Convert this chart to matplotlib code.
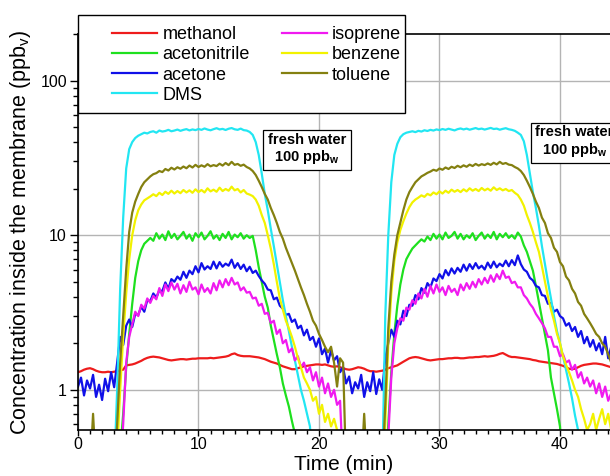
import numpy as np
import matplotlib
matplotlib.use("Agg")
import matplotlib.pyplot as plt
from matplotlib.ticker import MultipleLocator, LogLocator, FuncFormatter, NullFormatter
from matplotlib.patches import Rectangle

plt.rcParams['font.family'] = 'Liberation Sans'
plt.rcParams['mathtext.fontset'] = 'custom'
plt.rcParams['mathtext.rm'] = 'Liberation Sans'
plt.rcParams['mathtext.bf'] = 'Liberation Sans:bold'
plt.rcParams['mathtext.default'] = 'regular'

# sampling times (min), one reading every 15 s
time = np.arange(179) * 0.25

# values below the plotted range are stored as 0.3
methanol = [
    1.30, 1.32, 1.35, 1.37, 1.38, 1.36, 1.33, 1.31,
    1.30, 1.30, 1.31, 1.30, 1.31, 1.32, 1.34, 1.35,
    1.44, 1.45, 1.46, 1.48, 1.51, 1.54, 1.58, 1.61,
    1.63, 1.64, 1.63, 1.62, 1.60, 1.58, 1.56, 1.55,
    1.56, 1.57, 1.58, 1.58, 1.57, 1.58, 1.59, 1.59,
    1.60, 1.60, 1.60, 1.60, 1.61, 1.60, 1.61, 1.62,
    1.63, 1.64, 1.66, 1.70, 1.72, 1.68, 1.66, 1.65,
    1.65, 1.65, 1.64, 1.63, 1.62, 1.60, 1.58, 1.55,
    1.52, 1.50, 1.48, 1.45, 1.42, 1.40, 1.38, 1.36,
    1.36, 1.38, 1.40, 1.42, 1.43, 1.44, 1.45, 1.46,
    1.46, 1.45, 1.46, 1.44, 1.42, 1.41, 1.42, 1.40,
    1.38, 1.36, 1.35, 1.36, 1.38, 1.40, 1.39, 1.37,
    1.34, 1.32, 1.32, 1.31, 1.32, 1.33, 1.35, 1.38,
    1.40, 1.42, 1.44, 1.48, 1.52, 1.56, 1.60, 1.62,
    1.63, 1.62, 1.60, 1.58, 1.56, 1.55, 1.56, 1.57,
    1.58, 1.58, 1.59, 1.60, 1.60, 1.61, 1.61, 1.60,
    1.60, 1.61, 1.62, 1.62, 1.63, 1.63, 1.64, 1.65,
    1.64, 1.65, 1.66, 1.68, 1.71, 1.73, 1.69, 1.65,
    1.63, 1.63, 1.62, 1.61, 1.60, 1.59, 1.58, 1.56,
    1.55, 1.53, 1.52, 1.51, 1.50, 1.49, 1.48, 1.47,
    1.45, 1.43, 1.40, 1.37, 1.36, 1.37, 1.40, 1.43,
    1.45, 1.46, 1.47, 1.48, 1.48, 1.47, 1.46, 1.44,
    1.42, 1.40, 1.39,
]

acetonitrile = [
    0.3, 0.3, 0.3, 0.3, 0.3, 0.3, 0.3, 0.3,
    0.3, 0.3, 0.3, 0.3, 0.3, 0.3, 0.4, 0.7,
    1.4, 2.3, 3.6, 5.3, 6.8, 8.0, 8.8, 9.2,
    9.6, 9.2, 10.3, 9.5, 10.1, 9.3, 10.6, 9.6,
    10.2, 9.4, 9.9, 10.5, 9.5, 10.1, 9.2, 10.3,
    9.7, 10.4, 9.4, 9.9, 10.6, 9.5, 10.0, 9.3,
    10.2, 9.6, 10.5, 9.4, 10.1, 9.7, 10.3, 9.5,
    10.0, 9.6, 9.9, 8.0, 6.2, 5.0, 4.0, 3.4,
    2.6, 2.1, 1.7, 1.4, 1.1, 0.92, 0.78, 0.63,
    0.52, 0.3, 0.3, 0.3, 0.3, 0.3, 0.3, 0.3,
    0.3, 0.3, 0.3, 0.3, 0.3, 0.3, 0.3, 0.3,
    0.3, 0.3, 0.3, 0.3, 0.3, 0.3, 0.3, 0.3,
    0.3, 0.3, 0.3, 0.3, 0.3, 0.3, 0.3, 0.6,
    1.3, 2.3, 3.5, 4.8, 6.0, 7.0, 7.6, 8.2,
    8.6, 9.0, 9.4, 9.1, 9.8, 9.3, 10.2, 9.5,
    10.1, 9.4, 10.4, 9.6, 9.9, 10.5, 9.5, 10.2,
    9.4, 10.0, 9.6, 10.3, 9.3, 9.9, 10.4, 9.5,
    10.1, 9.6, 10.5, 9.4, 10.2, 9.7, 10.3, 9.6,
    10.0, 9.5, 10.4, 9.8, 8.6, 7.8, 6.8, 5.9,
    4.7, 3.7, 2.9, 2.3, 1.8, 1.2, 0.95, 0.75,
    0.58, 0.3, 0.3, 0.3, 0.3, 0.3, 0.3, 0.3,
    0.3, 0.3, 0.3, 0.3, 0.3, 0.3, 0.3, 0.3,
    0.3, 0.3, 0.3,
]

acetone = [
    1.05, 1.2, 0.92, 1.15, 1.02, 1.25, 0.9, 1.08,
    0.86, 1.18, 0.98, 1.3, 1.04, 1.5, 2.2, 1.95,
    2.6, 2.85, 2.55, 3.1, 3.05, 3.45, 3.2, 3.8,
    3.75, 4.2, 3.95, 4.4, 4.35, 4.95, 4.5, 5.2,
    5.0, 5.4, 5.15, 5.8, 5.3, 5.9, 5.6, 6.3,
    5.75, 6.6, 6.0, 6.3, 6.05, 6.75, 6.1, 6.7,
    6.25, 6.55, 6.35, 6.95, 6.15, 6.6, 6.05, 6.45,
    5.85, 6.25, 5.7, 5.9, 5.45, 5.1, 4.85, 4.45,
    4.4, 3.85, 3.95, 3.5, 3.35, 3.05, 3.1, 2.75,
    2.85, 2.5, 2.6, 2.25, 2.45, 2.1, 2.2, 1.9,
    2.15, 1.7, 1.85, 1.5, 1.8, 1.55, 1.65, 1.3,
    1.4, 1.1, 1.22, 0.95, 1.12, 1.02, 1.25, 0.9,
    1.12, 0.98, 1.3, 0.94, 1.17, 1.0, 1.6, 2.0,
    2.45, 2.2, 2.8, 2.65, 3.25, 3.0, 3.55, 3.5,
    4.1, 3.85, 4.55, 4.25, 4.9, 4.6, 5.25, 5.05,
    5.6, 5.25, 5.95, 5.5, 6.1, 5.65, 6.15, 5.8,
    6.45, 5.9, 6.5, 6.05, 6.6, 6.1, 6.35, 6.0,
    6.65, 6.15, 6.75, 6.2, 6.55, 6.3, 6.85, 6.3,
    6.9, 6.4, 7.4, 6.5, 6.0, 5.8, 5.3, 5.1,
    4.7, 4.6, 4.1, 4.05, 3.6, 3.65, 3.2, 3.3,
    3.0, 2.9, 2.6, 2.7, 2.4, 2.55, 2.2, 2.4,
    2.0, 2.2, 1.9, 2.1, 1.8, 2.0, 1.7, 2.2,
    1.6, 1.9, 1.7,
]

dms = [
    0.3, 0.3, 0.3, 0.3, 0.3, 0.3, 0.3, 0.3,
    0.3, 0.3, 0.3, 0.3, 0.3, 1.0, 4.5, 13,
    27, 36, 40, 42.5, 44, 45, 46, 45.5,
    46.5, 47, 46, 47.5, 46.8, 47.2, 48, 47,
    47.5, 48.2, 47.3, 48, 48.5, 47.6, 48.3, 47.8,
    48.6, 48, 49, 48.2, 47.7, 48.5, 49.2, 48.3,
    48.7, 47.9, 48.8, 49.3, 48.4, 48, 48.9, 47.8,
    47.5, 46.5, 44.5, 40, 33, 25, 18.5, 14.5,
    11, 8.5, 6.5, 5.0, 3.8, 3.0, 2.4, 1.9,
    1.55, 1.25, 1.0, 0.85, 0.7, 0.58, 0.3, 0.3,
    0.3, 0.3, 0.3, 0.3, 0.3, 0.3, 0.3, 0.3,
    0.3, 0.3, 0.3, 0.3, 0.3, 0.3, 0.3, 0.3,
    0.3, 0.3, 0.3, 0.3, 0.3, 0.3, 3.0, 10,
    22, 33, 39, 43, 45, 46, 46.5, 47,
    46.4, 47.3, 46.8, 47.7, 47.2, 48, 47.5, 48.3,
    47.8, 48.6, 48, 48.8, 48.2, 47.6, 48.5, 49,
    48.3, 48.9, 48.1, 48.7, 49.3, 48.5, 48.9, 48.2,
    48.8, 49.4, 48.6, 48.9, 48.1, 48.7, 49.2, 48.4,
    48, 47.3, 46, 44.5, 40.5, 33, 25, 19,
    15, 11.5, 8.5, 6.5, 5.0, 3.9, 3.0, 2.4,
    2.0, 1.65, 1.35, 1.1, 0.88, 0.68, 0.55, 0.3,
    0.3, 0.3, 0.3, 0.3, 0.3, 0.3, 0.3, 0.3,
    0.3, 0.3, 0.3,
]

isoprene = [
    0.3, 0.3, 0.3, 0.3, 0.3, 0.3, 0.3, 0.3,
    0.3, 0.3, 0.3, 0.3, 0.3, 0.3, 0.3, 0.6,
    1.5, 2.2, 2.65, 3.2, 3.0, 3.55, 3.35, 3.9,
    3.65, 4.05, 3.85, 4.55, 4.05, 4.8, 4.35, 4.95,
    4.45, 4.85, 4.2, 4.75, 4.3, 5.0, 4.45, 4.6,
    4.15, 4.8, 4.3, 4.55, 4.2, 4.9, 4.4, 5.1,
    4.6, 5.2, 4.75, 5.3, 4.8, 4.95, 4.4, 4.6,
    4.25, 4.3, 3.9, 3.95, 3.5, 3.6, 3.1, 3.15,
    2.7, 2.8, 2.3, 2.45, 2.0, 2.1, 1.75, 1.85,
    1.55, 1.65, 1.4, 1.5, 1.3, 1.4, 1.15, 1.3,
    1.05, 1.2, 0.95, 1.1, 0.9, 1.0, 0.8, 0.85,
    0.3, 0.3, 0.3, 0.3, 0.3, 0.3, 0.3, 0.3,
    0.3, 0.3, 0.3, 0.3, 0.3, 0.3, 0.3, 0.5,
    1.2, 2.0, 2.5, 2.9, 2.8, 3.4, 3.3, 3.8,
    3.6, 4.2, 3.9, 4.5, 4.0, 4.7, 4.2, 4.8,
    4.3, 4.6, 4.1, 4.7, 4.3, 4.5, 4.1, 4.8,
    4.4, 4.9, 4.5, 5.0, 4.6, 5.2, 4.8, 5.3,
    4.9, 5.5, 5.0, 5.6, 5.2, 5.9, 5.3, 5.4,
    4.9, 5.0, 4.6, 4.6, 4.1, 3.9, 3.6, 3.4,
    3.1, 2.9, 2.7, 2.5, 2.2, 2.2, 1.9, 1.9,
    1.65, 1.7, 1.5, 1.55, 1.35, 1.45, 1.2, 1.3,
    1.1, 1.2, 1.05, 1.15, 0.95, 1.1, 0.9, 1.05,
    0.85, 0.95, 0.8,
]

benzene = [
    0.3, 0.3, 0.3, 0.3, 0.3, 0.3, 0.3, 0.3,
    0.3, 0.3, 0.3, 0.3, 0.3, 0.4, 1.0, 2.2,
    4.2, 7, 10, 12.5, 14.5, 15.8, 16.8, 17.3,
    17.8, 18.4, 17.9, 18.8, 18.2, 19.1, 18.5, 19.4,
    18.6, 19.3, 18.7, 19.6, 18.9, 19.5, 18.8, 19.8,
    19, 19.6, 18.9, 20.1, 19.2, 19.7, 19.1, 20.3,
    19.3, 19.9, 19.4, 20.6, 19.5, 19.9, 18.9, 19.6,
    18.6, 18.3, 17.9, 17, 15.5, 13.5, 12, 10,
    8.2, 6.5, 5.0, 3.9, 3.3, 2.8, 2.5, 2.2,
    1.9, 1.6, 1.4, 1.2, 1.1, 1.0, 0.85, 0.9,
    0.7, 0.8, 0.62, 0.7, 0.58, 0.65, 0.55, 0.3,
    0.3, 0.3, 0.3, 0.3, 0.3, 0.3, 0.3, 0.3,
    0.3, 0.3, 0.3, 0.3, 0.3, 0.3, 0.6, 2.0,
    4.2, 6.8, 9, 10.8, 12.3, 13.8, 15.2, 16.3,
    17, 17.5, 18.1, 17.7, 18.5, 18.1, 18.9, 18.4,
    19.2, 18.6, 19.4, 18.8, 19.7, 19.1, 19.6, 19,
    19.8, 19.2, 20.1, 19.4, 19.9, 19.3, 20.2, 19.5,
    20, 19.4, 20.4, 19.6, 20.1, 19.5, 19.9, 19.3,
    19.6, 18.8, 18.2, 17, 15.5, 13.5, 12, 10.5,
    9, 7.8, 6.3, 5.0, 4.0, 3.3, 2.8, 2.3,
    2.0, 1.65, 1.45, 1.3, 1.15, 1.0, 0.9, 0.75,
    0.65, 0.55, 0.6, 0.7, 0.55, 0.65, 0.75, 0.6,
    0.7, 0.55, 0.5,
]

toluene = [
    0.3, 0.3, 0.3, 0.3, 0.3, 0.7, 0.3, 0.3,
    0.3, 0.3, 0.3, 0.3, 0.3, 0.6, 1.5, 3.0,
    6, 10.5, 14, 16.5, 18.5, 20.5, 22, 23,
    24, 24.8, 25.2, 26, 25.6, 26.8, 26.2, 27.3,
    26.6, 27.5, 26.9, 27.8, 27.1, 28.2, 27.4, 28.5,
    27.6, 28.3, 27.7, 28.8, 27.9, 28.4, 28, 29,
    28.2, 29.3, 28.4, 29.8, 28.5, 28.9, 28.1, 28.6,
    27.6, 27, 26, 24.5, 22.5, 20.5, 18.5, 17,
    15, 13.5, 12, 10.5, 9.5, 8.3, 7.4, 6.6,
    5.9, 5.2, 4.6, 4.1, 3.6, 3.2, 2.8, 2.6,
    2.3, 2.1, 1.9, 1.75, 1.9, 1.5, 1.05, 1.6,
    1.5, 0.3, 0.3, 0.3, 0.3, 0.3, 0.3, 0.7,
    0.3, 0.3, 0.3, 0.3, 0.3, 0.3, 0.8, 2.5,
    5, 7.5, 10, 12, 14.5, 17, 19, 20.5,
    22, 23, 24, 24.6, 25.3, 25.8, 26.5, 26.1,
    27, 26.5, 27.4, 26.8, 27.7, 27.2, 28.1, 27.5,
    28.3, 27.7, 28.6, 28, 28.9, 28.2, 28.8, 28.4,
    29.1, 28.5, 29.4, 28.7, 29.8, 28.9, 29.3, 28.6,
    28.4, 27.6, 27, 26, 24.5, 22.5, 20.5, 18.5,
    16.5, 15, 13, 12, 10.3, 9.6, 8.3, 7.8,
    6.7, 6.3, 5.4, 5.1, 4.5, 4.2, 3.7, 3.5,
    3.1, 2.9, 2.7, 2.5, 2.3, 2.2, 2.0, 1.9,
    1.7, 1.5, 0.3,
]

series = [
    ('methanol', methanol, '#ee1c1c'),
    ('acetonitrile', acetonitrile, '#1ee01e'),
    ('acetone', acetone, '#1010e8'),
    ('DMS', dms, '#22e6f2'),
    ('isoprene', isoprene, '#f01af0'),
    ('benzene', benzene, '#f2f200'),
    ('toluene', toluene, '#848010'),
]

fig = plt.figure(figsize=(6.1, 4.76), dpi=100)
ax = fig.add_axes([78 / 610, 46 / 476, 532 / 610, 396 / 476])

handles = []
for name, vals, col in series:
    h, = ax.plot(time, vals, color=col, lw=1.6, label=name)
    handles.append(h)

ax.set_yscale('log')
ax.set_xlim(0, 44.15)
ax.set_ylim(0.55, 200)

ax.xaxis.set_major_locator(MultipleLocator(10))
ax.xaxis.set_minor_locator(MultipleLocator(1))
ax.yaxis.set_major_locator(LogLocator(base=10))
ax.yaxis.set_minor_locator(LogLocator(base=10, subs=np.arange(2, 10)))
ax.yaxis.set_major_formatter(FuncFormatter(lambda v, p: f'{v:g}'))
ax.yaxis.set_minor_formatter(NullFormatter())
ax.tick_params(which='major', direction='out', length=6, width=1, labelsize=11.5, pad=2)
ax.tick_params(which='minor', direction='out', length=3.5, width=1)
ax.tick_params(axis='x', which='major', length=4, pad=1)
ax.tick_params(axis='x', which='minor', length=3)

ax.grid(True, which='major', color='#b4b4b4', lw=1)
ax.set_axisbelow(True)
ax.spines['right'].set_visible(False)
for s in ['left', 'bottom', 'top']:
    ax.spines[s].set_linewidth(1.2)

ax.set_xlabel('Time (min)', fontsize=15, labelpad=2)
ax.set_ylabel('Concentration inside the membrane (ppb$_\\mathregular{v}$)', fontsize=15.5, labelpad=5)

# legend box sits above the frame, partly outside the axes
box = Rectangle((78 / 610, (476 - 113) / 476), 327 / 610, 98 / 476, transform=fig.transFigure,
                fc='white', ec='black', lw=1, zorder=10, clip_on=False)
ax.add_artist(box)
leg = ax.legend(handles=handles, ncol=2, frameon=False, fontsize=13, handlelength=2.5,
                handletextpad=0.3, columnspacing=1.75, labelspacing=0.18, borderpad=0,
                loc='upper left', bbox_to_anchor=(103 / 610, (476 - 17) / 476),
                bbox_transform=fig.transFigure)
leg.set_zorder(11)

for x, y in [(19.0, 36), (41.2, 40)]:
    ax.text(x, y, 'fresh water\n100 ppb$_\\mathbf{w}$', ha='center', va='center',
            fontsize=10.5, fontweight='bold', linespacing=1.1, zorder=6,
            bbox=dict(boxstyle='square,pad=0.3', fc='white', ec='black', lw=0.9))

fig.savefig('out.png', dpi=100)
